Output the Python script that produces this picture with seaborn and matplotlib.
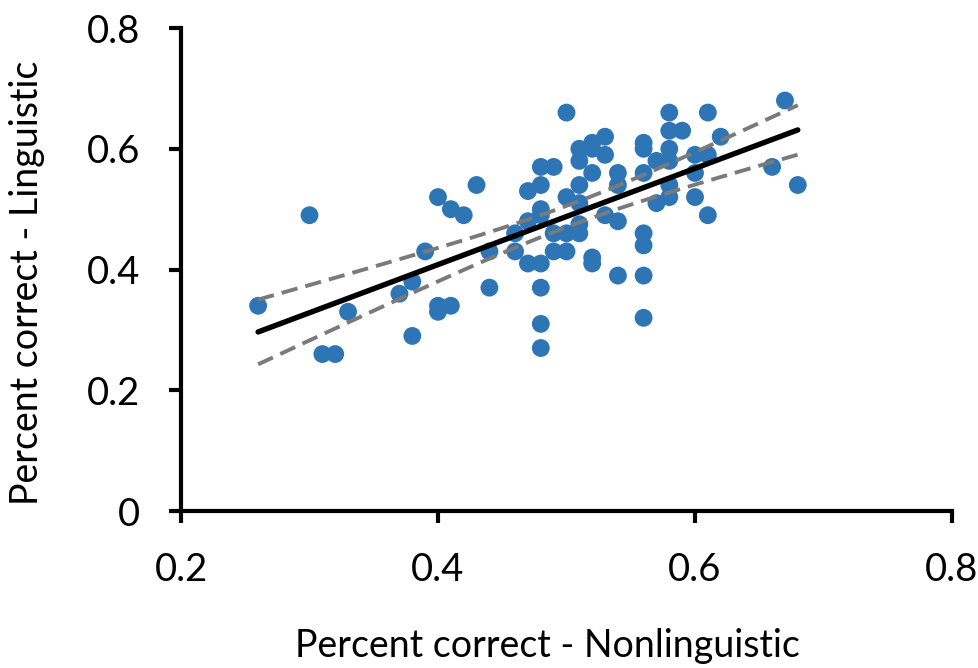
import numpy as np
import pandas as pd
import matplotlib
matplotlib.use("Agg")
import matplotlib.pyplot as plt
import seaborn as sns

# Per-participant accuracy on the two task types
nonlinguistic = [
    0.26, 0.30, 0.31, 0.32, 0.33, 0.37, 0.38, 0.38, 0.39, 0.40,
    0.40, 0.40, 0.41, 0.41, 0.42, 0.43, 0.44, 0.44, 0.46, 0.46,
    0.47, 0.47, 0.47, 0.48, 0.48, 0.48, 0.48, 0.48, 0.48, 0.48,
    0.48, 0.49, 0.49, 0.49, 0.50, 0.50, 0.50, 0.50, 0.51, 0.51,
    0.51, 0.51, 0.51, 0.51, 0.52, 0.52, 0.52, 0.52, 0.52, 0.53,
    0.53, 0.53, 0.54, 0.54, 0.54, 0.54, 0.56, 0.56, 0.56, 0.56,
    0.56, 0.56, 0.56, 0.57, 0.57, 0.58, 0.58, 0.58, 0.58, 0.58,
    0.58, 0.59, 0.60, 0.60, 0.60, 0.61, 0.61, 0.61, 0.62, 0.66,
    0.67, 0.68,
]
linguistic = [
    0.34, 0.49, 0.26, 0.26, 0.33, 0.36, 0.38, 0.29, 0.43, 0.52,
    0.34, 0.33, 0.50, 0.34, 0.49, 0.54, 0.43, 0.37, 0.46, 0.43,
    0.53, 0.48, 0.41, 0.57, 0.54, 0.50, 0.49, 0.41, 0.37, 0.31,
    0.27, 0.57, 0.46, 0.43, 0.66, 0.52, 0.46, 0.43, 0.60, 0.58,
    0.54, 0.51, 0.475, 0.46, 0.61, 0.60, 0.56, 0.42, 0.41, 0.62,
    0.59, 0.49, 0.56, 0.54, 0.48, 0.39, 0.61, 0.60, 0.56, 0.46,
    0.44, 0.39, 0.32, 0.58, 0.51, 0.66, 0.63, 0.60, 0.58, 0.54,
    0.52, 0.63, 0.59, 0.56, 0.52, 0.66, 0.59, 0.49, 0.62, 0.57,
    0.68, 0.54,
]

x_ticks = [0.2, 0.4, 0.6, 0.8]
x_tick_labels = ["0.2", "0.4", "0.6", "0.8"]
y_ticks = [0.0, 0.2, 0.4, 0.6, 0.8]
y_tick_labels = ["0", "0.2", "0.4", "0.6", "0.8"]

df = pd.DataFrame({"nonling": nonlinguistic, "ling": linguistic})

sns.set_theme(style="white")
plt.rcParams["font.family"] = ["Lato", "DejaVu Sans"]

fig = plt.figure(figsize=(9.79, 6.68), dpi=100)
ax = fig.add_axes([0.1849, 0.235, 0.7875, 0.723])

point_color = "#2E75B6"
sns.scatterplot(data=df, x="nonling", y="ling", ax=ax, color=point_color,
                s=165, edgecolor="none", linewidth=0, zorder=3)

# Least-squares fit and 95% confidence band of the mean prediction
x = np.asarray(nonlinguistic, dtype=float)
y = np.asarray(linguistic, dtype=float)
n = len(x)
slope, intercept = np.polyfit(x, y, 1)
resid = y - (slope * x + intercept)
s_err = np.sqrt(np.sum(resid ** 2) / (n - 2))
sxx = np.sum((x - x.mean()) ** 2)
t_crit = 1.99
grid = np.linspace(x.min(), x.max(), 100)
fit = slope * grid + intercept
half = t_crit * s_err * np.sqrt(1.0 / n + (grid - x.mean()) ** 2 / sxx)

sns.lineplot(x=grid, y=fit, ax=ax, color="black", linewidth=3.9, zorder=4,
             solid_capstyle="round")
for band in (fit + half, fit - half):
    ax.plot(grid, band, color="#7A7A7A", linewidth=2.8,
            linestyle=(0, (4.2, 2.1)), dash_capstyle="butt", zorder=4)

ax.set_xlim(0.2, 0.8)
ax.set_ylim(0.0, 0.8)
ax.set_xticks(x_ticks)
ax.set_xticklabels(x_tick_labels)
ax.set_yticks(y_ticks)
ax.set_yticklabels(y_tick_labels)

for side in ("top", "right"):
    ax.spines[side].set_visible(False)
for side in ("left", "bottom"):
    ax.spines[side].set_color("black")
    ax.spines[side].set_linewidth(3.0)
    ax.spines[side].set_capstyle("projecting")

ax.tick_params(axis="both", which="major", direction="out", length=8.6,
               width=3.0, color="black", labelsize=27.5, labelcolor="black",
               bottom=True, left=True)
ax.tick_params(axis="x", pad=21)
ax.tick_params(axis="y", pad=21)

ax.set_xlabel("Percent correct - Nonlinguistic", fontsize=27, color="black",
              labelpad=29)
ax.set_ylabel("Percent correct - Linguistic", fontsize=27, color="black",
              labelpad=30)
ax.xaxis.label.set_x(0.475)
ax.yaxis.label.set_y(0.472)
ax.grid(False)

fig.savefig("out.png", dpi=100, facecolor="white")
